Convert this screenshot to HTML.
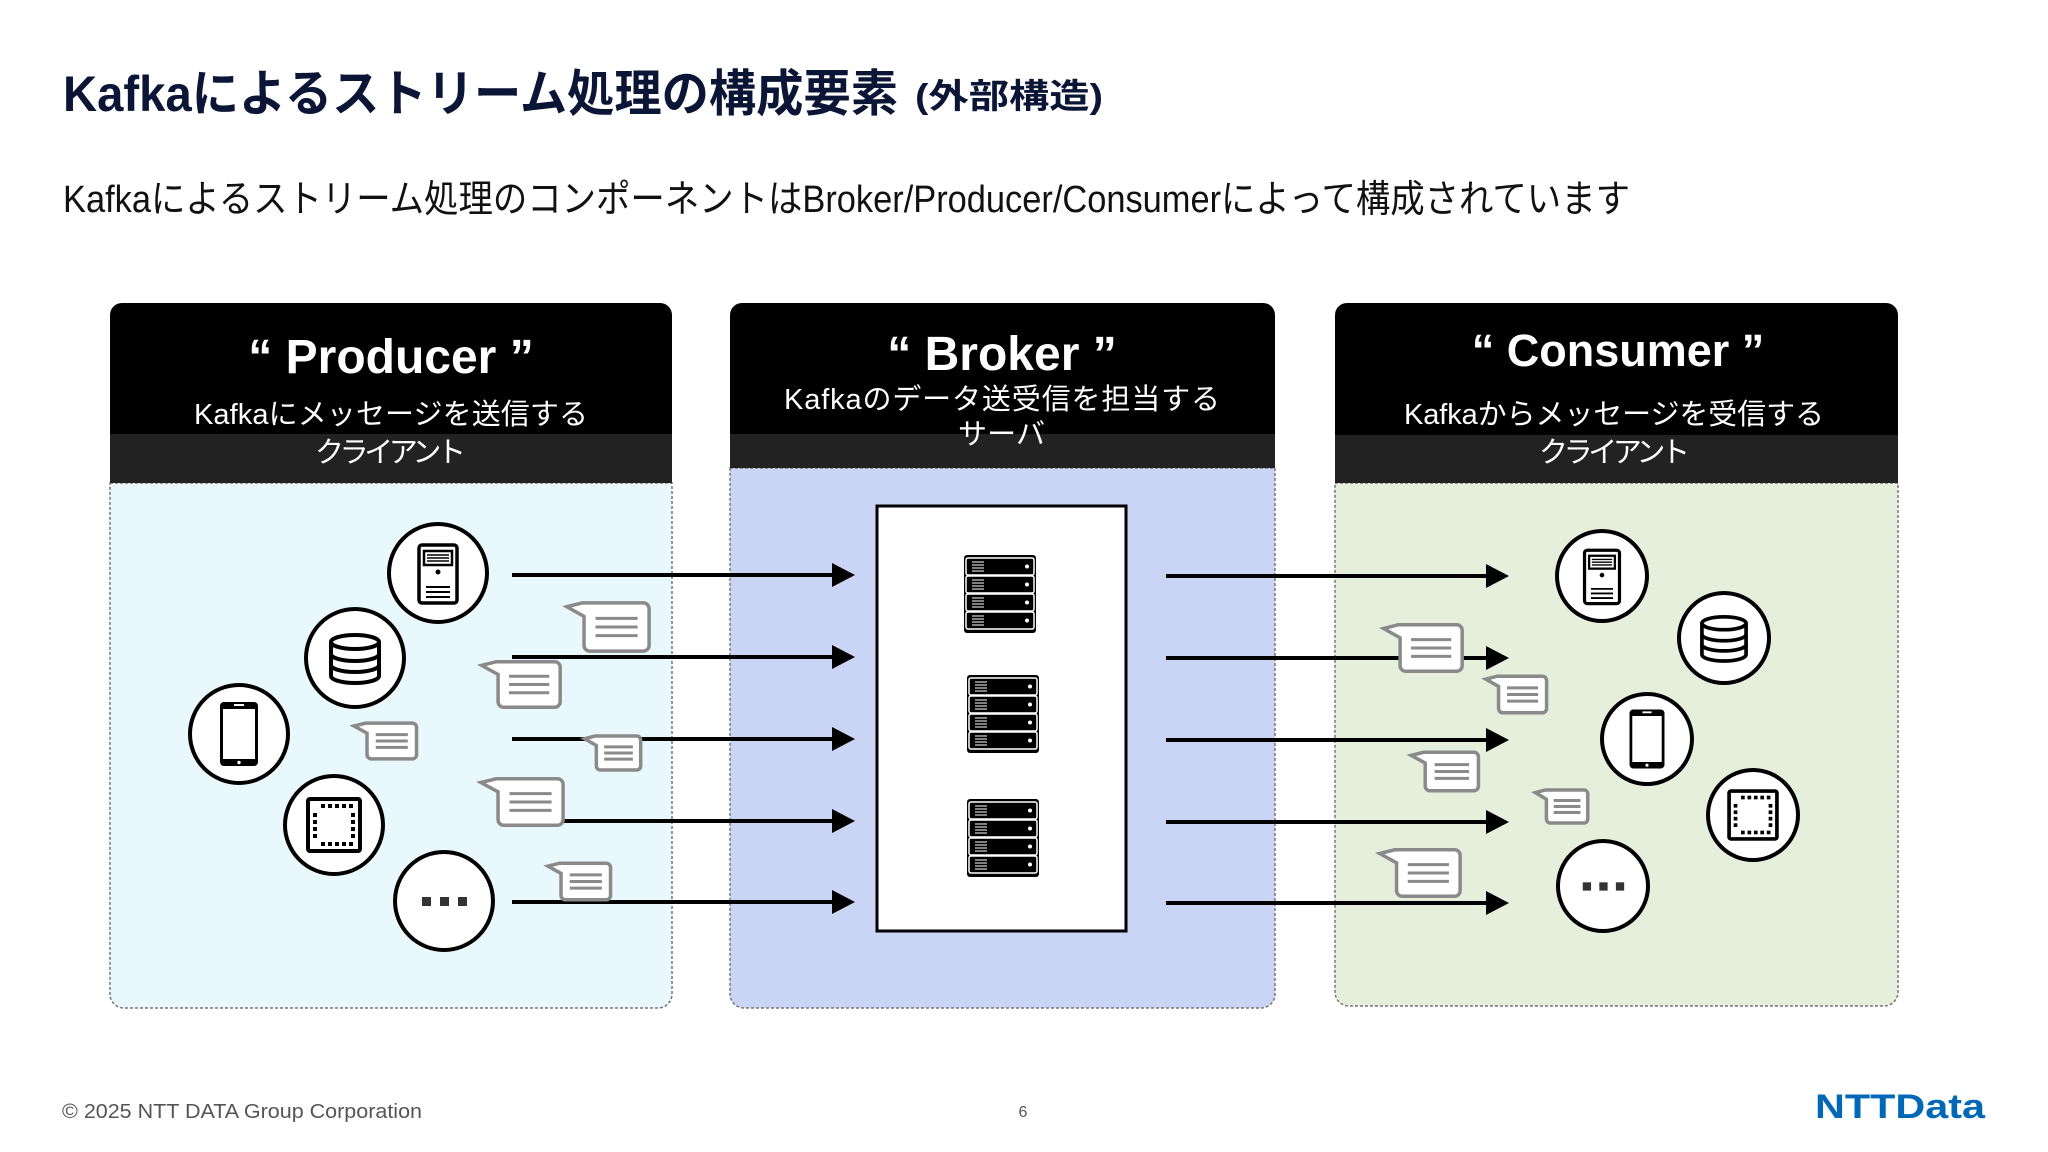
<!DOCTYPE html>
<html><head><meta charset="utf-8"><style>
html,body{margin:0;padding:0;background:#fff;}
svg{display:block;}
text{font-family:"Liberation Sans","Noto Sans CJK JP",sans-serif;}
</style></head><body>
<svg width="2048" height="1152" viewBox="0 0 2048 1152" xmlns="http://www.w3.org/2000/svg">
<defs>
<symbol id="bub" viewBox="0 0 92 56" preserveAspectRatio="none" overflow="visible">
<path d="M20,3 h64 a6,6 0 0 1 6,6 v38 a6,6 0 0 1 -6,6 h-56 a6,6 0 0 1 -6,-6 v-30 l-18,-10 z" fill="#fff" stroke="#8a8a8a" stroke-width="3.5" vector-effect="non-scaling-stroke"/>
<line x1="34" y1="19" x2="78" y2="19" stroke="#8a8a8a" stroke-width="3" vector-effect="non-scaling-stroke"/>
<line x1="34" y1="28" x2="78" y2="28" stroke="#8a8a8a" stroke-width="3" vector-effect="non-scaling-stroke"/>
<line x1="34" y1="37" x2="78" y2="37" stroke="#8a8a8a" stroke-width="3" vector-effect="non-scaling-stroke"/>
</symbol>
<g id="tower">
<rect x="-19" y="-28" width="38" height="58" rx="3" fill="#fff" stroke="#000" stroke-width="3.5"/>
<rect x="-14" y="-22" width="28" height="14" fill="none" stroke="#000" stroke-width="2.5"/>
<line x1="-11" y1="-18" x2="11" y2="-18" stroke="#000" stroke-width="1.5"/>
<line x1="-11" y1="-15" x2="11" y2="-15" stroke="#000" stroke-width="1.5"/>
<line x1="-11" y1="-12" x2="11" y2="-12" stroke="#000" stroke-width="1.5"/>
<circle cx="0" cy="-1" r="2.5" fill="#000"/>
<line x1="-12" y1="14" x2="12" y2="14" stroke="#000" stroke-width="2"/>
<line x1="-12" y1="19" x2="12" y2="19" stroke="#000" stroke-width="2"/>
<line x1="-12" y1="24" x2="12" y2="24" stroke="#000" stroke-width="2"/>
</g>
<g id="db" fill="#fff" stroke="#000" stroke-width="4">
<path d="M-24,-16 v34 a24,7 0 0 0 48,0 v-34"/>
<ellipse cx="0" cy="-16" rx="24" ry="7"/>
<path d="M-24,-4 a24,7 0 0 0 48,0 M-24,7 a24,7 0 0 0 48,0" fill="none"/>
</g>
<g id="phone">
<rect x="-19" y="-32" width="38" height="64" rx="4" fill="#000"/>
<rect x="-16" y="-25" width="32" height="50" fill="#fff"/>
<rect x="-5" y="-30" width="10" height="2" fill="#fff"/>
<circle cx="0" cy="28.5" r="1.7" fill="#fff"/>
</g>
<g id="chip">
<rect x="-26" y="-26" width="52" height="52" rx="2" fill="#fff" stroke="#000" stroke-width="4"/>
<g fill="#000">
<rect x="-13" y="-21" width="4" height="4"/><rect x="-6" y="-21" width="4" height="4"/><rect x="1" y="-21" width="4" height="4"/><rect x="8" y="-21" width="4" height="4"/><rect x="15" y="-21" width="4" height="4"/>
<rect x="-13" y="17" width="4" height="4"/><rect x="-6" y="17" width="4" height="4"/><rect x="1" y="17" width="4" height="4"/><rect x="8" y="17" width="4" height="4"/><rect x="15" y="17" width="4" height="4"/>
<rect x="-21" y="-12" width="4" height="4"/><rect x="-21" y="-5" width="4" height="4"/><rect x="-21" y="2" width="4" height="4"/><rect x="-21" y="9" width="4" height="4"/>
<rect x="17" y="-12" width="4" height="4"/><rect x="17" y="-5" width="4" height="4"/><rect x="17" y="2" width="4" height="4"/><rect x="17" y="9" width="4" height="4"/>
</g>
</g>
<g id="dots" fill="#333"><rect x="-22" y="-4" width="9" height="9"/><rect x="-4" y="-4" width="9" height="9"/><rect x="14" y="-4" width="9" height="9"/></g>
<g id="row">
<rect x="2" y="0" width="68" height="17" rx="2" fill="#000" stroke="#fff" stroke-width="1.5"/>
<g stroke="#fff" stroke-width="1"><line x1="8" y1="4" x2="20" y2="4"/><line x1="8" y1="7" x2="20" y2="7"/><line x1="8" y1="10" x2="20" y2="10"/><line x1="8" y1="13" x2="20" y2="13"/></g>
<circle cx="63" cy="8.5" r="2" fill="#fff"/>
</g>
<g id="rack">
<rect x="0" y="-2" width="72" height="78" rx="3" fill="#000"/>
<use href="#row" y="1"/><use href="#row" y="19"/><use href="#row" y="37"/><use href="#row" y="55"/>
</g>
</defs>

<text x="63" y="111" font-size="50" font-weight="bold" fill="#0b1535" textLength="835" lengthAdjust="spacingAndGlyphs">Kafkaによるストリーム処理の構成要素</text>
<text x="915" y="108" font-size="34" font-weight="bold" fill="#0b1535" textLength="188" lengthAdjust="spacingAndGlyphs">(外部構造)</text>
<text x="63" y="212" font-size="38" fill="#111" textLength="1567" lengthAdjust="spacingAndGlyphs">Kafkaによるストリーム処理のコンポーネントはBroker/Producer/Consumerによって構成されています</text>

<path d="M110,483 H672 V994 a14,14 0 0 1 -14,14 H124 a14,14 0 0 1 -14,-14 Z" fill="#e9f8fd" stroke="#777" stroke-width="1.5" stroke-dasharray="3,2"/>
<path d="M110,315 a12,12 0 0 1 12,-12 H660 a12,12 0 0 1 12,12 V483 H110 Z" fill="#000"/>
<rect x="110" y="434" width="562" height="49" fill="#222"/>
<text x="391" y="373" font-size="48" font-weight="bold" fill="#fff" text-anchor="middle">“ Producer ”</text>
<text x="194" y="424" font-size="29" fill="#fff" textLength="394" lengthAdjust="spacing">Kafkaにメッセージを送信する</text>
<text x="315" y="462" font-size="29" fill="#fff" textLength="151" lengthAdjust="spacing">クライアント</text>

<path d="M730,468 H1275 V994 a14,14 0 0 1 -14,14 H744 a14,14 0 0 1 -14,-14 Z" fill="#cad4f4" stroke="#777" stroke-width="1.5" stroke-dasharray="3,2"/>
<path d="M730,315 a12,12 0 0 1 12,-12 H1263 a12,12 0 0 1 12,12 V468 H730 Z" fill="#000"/>
<rect x="730" y="434" width="545" height="34" fill="#222"/>
<text x="1002" y="370" font-size="48" font-weight="bold" fill="#fff" text-anchor="middle">“ Broker ”</text>
<text x="784" y="409" font-size="29" fill="#fff" textLength="436" lengthAdjust="spacing">Kafkaのデータ送受信を担当する</text>
<text x="958" y="444" font-size="29" fill="#fff" textLength="87" lengthAdjust="spacing">サーバ</text>
<rect x="877" y="506" width="249" height="425" fill="#fff" stroke="#000" stroke-width="3"/>
<use href="#rack" x="964" y="557"/>
<use href="#rack" x="967" y="677"/>
<use href="#rack" x="967" y="801"/>

<path d="M1335,483 H1898 V992 a14,14 0 0 1 -14,14 H1349 a14,14 0 0 1 -14,-14 Z" fill="#e5efdc" stroke="#777" stroke-width="1.5" stroke-dasharray="3,2"/>
<path d="M1335,315 a12,12 0 0 1 12,-12 H1886 a12,12 0 0 1 12,12 V483 H1335 Z" fill="#000"/>
<rect x="1335" y="435" width="563" height="48" fill="#222"/>
<text x="1618" y="366" font-size="45" font-weight="bold" fill="#fff" text-anchor="middle">“ Consumer ”</text>
<text x="1404" y="424" font-size="29" fill="#fff" textLength="420" lengthAdjust="spacing">Kafkaからメッセージを受信する</text>
<text x="1539" y="462" font-size="29" fill="#fff" textLength="151" lengthAdjust="spacing">クライアント</text>

<g stroke="#000" stroke-width="4">
<line x1="512" y1="575" x2="840" y2="575"/>
<line x1="512" y1="657" x2="840" y2="657"/>
<line x1="512" y1="739" x2="840" y2="739"/>
<line x1="512" y1="821" x2="840" y2="821"/>
<line x1="512" y1="902" x2="840" y2="902"/>
<line x1="1166" y1="576" x2="1494" y2="576"/>
<line x1="1166" y1="658" x2="1494" y2="658"/>
<line x1="1166" y1="740" x2="1494" y2="740"/>
<line x1="1166" y1="822" x2="1494" y2="822"/>
<line x1="1166" y1="903" x2="1494" y2="903"/>
</g>
<g fill="#000">
<path d="M832,563 L855,575 L832,587 Z"/><path d="M832,645 L855,657 L832,669 Z"/><path d="M832,727 L855,739 L832,751 Z"/><path d="M832,809 L855,821 L832,833 Z"/><path d="M832,890 L855,902 L832,914 Z"/>
<path d="M1486,564 L1509,576 L1486,588 Z"/><path d="M1486,646 L1509,658 L1486,670 Z"/><path d="M1486,728 L1509,740 L1486,752 Z"/><path d="M1486,810 L1509,822 L1486,834 Z"/><path d="M1486,891 L1509,903 L1486,915 Z"/>
</g>

<g fill="#fff" stroke="#000" stroke-width="4">
<circle cx="438" cy="573" r="49"/><circle cx="355" cy="658" r="49"/><circle cx="239" cy="734" r="49"/><circle cx="334" cy="825" r="49"/><circle cx="444" cy="901" r="49"/>
<circle cx="1602" cy="576" r="45"/><circle cx="1724" cy="638" r="45"/><circle cx="1647" cy="739" r="45"/><circle cx="1753" cy="815" r="45"/><circle cx="1603" cy="886" r="45"/>
</g>
<use href="#tower" x="438" y="573"/>
<use href="#db" x="355" y="658"/>
<use href="#phone" x="239" y="734"/>
<use href="#chip" x="334" y="825"/>
<use href="#dots" x="444" y="901"/>
<g transform="translate(1602,576) scale(0.92)"><use href="#tower"/></g>
<g transform="translate(1724,638) scale(0.92)"><use href="#db"/></g>
<g transform="translate(1647,739) scale(0.92)"><use href="#phone"/></g>
<g transform="translate(1753,815) scale(0.92)"><use href="#chip"/></g>
<g transform="translate(1603,886) scale(0.92)"><use href="#dots"/></g>

<use href="#bub" x="563" y="600" width="88" height="54"/>
<use href="#bub" x="478" y="659" width="84" height="51"/>
<use href="#bub" x="351" y="721" width="67" height="40"/>
<use href="#bub" x="582" y="734" width="60" height="38"/>
<use href="#bub" x="477" y="776" width="88" height="52"/>
<use href="#bub" x="545" y="861" width="67" height="41"/>
<use href="#bub" x="1380" y="622" width="84" height="52"/>
<use href="#bub" x="1483" y="674" width="65" height="41"/>
<use href="#bub" x="1408" y="750" width="72" height="43"/>
<use href="#bub" x="1533" y="788" width="56" height="37"/>
<use href="#bub" x="1376" y="847" width="86" height="52"/>

<text x="62" y="1118" font-size="20" fill="#555" textLength="360" lengthAdjust="spacingAndGlyphs">© 2025 NTT DATA Group Corporation</text>
<text x="1023" y="1117" font-size="16" fill="#555" text-anchor="middle">6</text>
<text x="1815" y="1118" font-size="34" font-weight="bold" fill="#0068b7" textLength="170" lengthAdjust="spacingAndGlyphs">NTTData</text>
</svg>
</body></html>
